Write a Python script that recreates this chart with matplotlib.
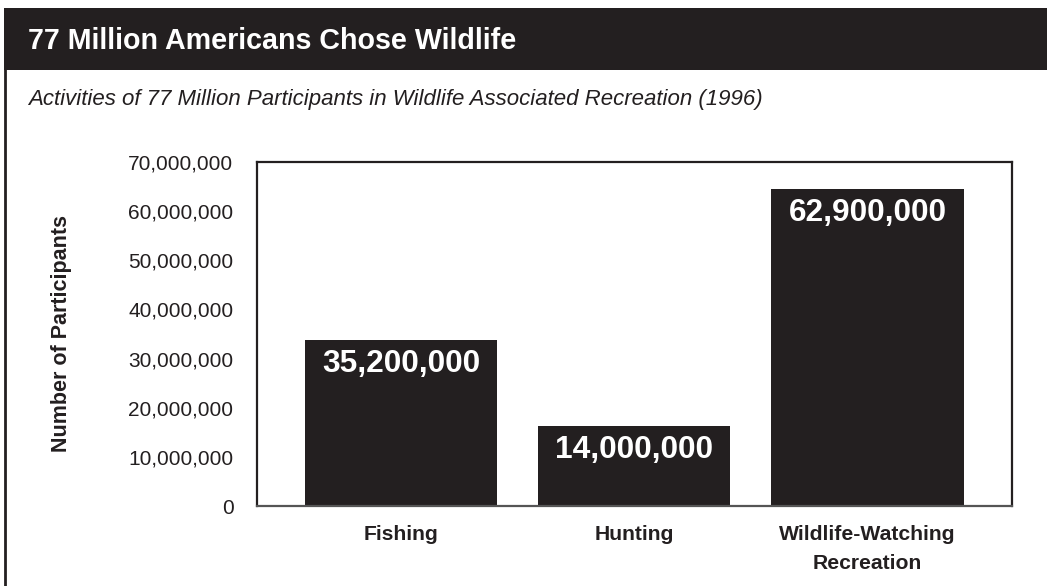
import matplotlib
matplotlib.use("Agg")
import matplotlib.pyplot as plt
from matplotlib.patches import Rectangle
from matplotlib.lines import Line2D

plt.rcParams['font.family'] = ['Liberation Sans', 'DejaVu Sans']

INK = '#231f20'

# data
activities = ['Fishing', 'Hunting', 'Wildlife-Watching\nRecreation']
participants = [35200000, 14000000, 62900000]   # printed on the bars
bar_heights = [33800000, 16300000, 64500000]    # bar tops as drawn in the picture
y_ticks = [0, 10000000, 20000000, 30000000, 40000000, 50000000, 60000000, 70000000]

fig = plt.figure(figsize=(10.47, 5.86), dpi=100, facecolor='white')

# header band and left frame line
fig.patches.append(Rectangle((4 / 1047, 1 - 70 / 586), 1 - 4 / 1047, 62 / 586,
                             transform=fig.transFigure, facecolor=INK, edgecolor='none'))
fig.lines.append(Line2D([5 / 1047, 5 / 1047], [0, 1 - 70 / 586], transform=fig.transFigure,
                        color=INK, linewidth=2))

fig.text(28 / 1047, 1 - 41 / 586, '77 Million Americans Chose Wildlife', color='white',
         fontsize=20.6, fontweight='bold', ha='left', va='center')
fig.text(28 / 1047, 1 - 100 / 586,
         'Activities of 77 Million Participants in Wildlife Associated Recreation (1996)',
         color=INK, fontsize=16, fontstyle='italic', ha='left', va='center')

ax = fig.add_axes([257 / 1047, 1 - 506 / 586, 755 / 1047, 344 / 586])
x = range(len(activities))
bars = ax.bar(x, bar_heights, width=0.824, color=INK, edgecolor='none')

for b, v in zip(bars, participants):
    ax.annotate(f'{v:,}', (b.get_x() + b.get_width() / 2, b.get_height()),
                xytext=(0, -17), textcoords='offset points', ha='center', va='center',
                color='white', fontsize=22.8, fontweight='bold')

ax.set_xlim(-0.618, 2.62)
ax.set_ylim(0, 70000000)
ax.set_yticks(y_ticks)
ax.set_yticklabels([f'{t:,}' for t in y_ticks])
ax.set_xticks(list(x))
ax.set_xticklabels(activities, fontweight='bold', linespacing=1.66)
ax.tick_params(axis='y', length=0, pad=17, labelsize=15, labelcolor=INK)
ax.tick_params(axis='x', length=0, pad=13.5, labelsize=15.2, labelcolor=INK)

for side in ['left', 'top', 'right']:
    ax.spines[side].set_color(INK)
    ax.spines[side].set_linewidth(1.6)
ax.spines['bottom'].set_color('#555555')
ax.spines['bottom'].set_linewidth(1.6)

fig.text(62 / 1047, 1 - 334 / 586, 'Number of Participants', rotation=90, color=INK,
         fontsize=15.5, fontweight='bold', ha='center', va='center')

fig.savefig('out.png', dpi=100, facecolor='white')
